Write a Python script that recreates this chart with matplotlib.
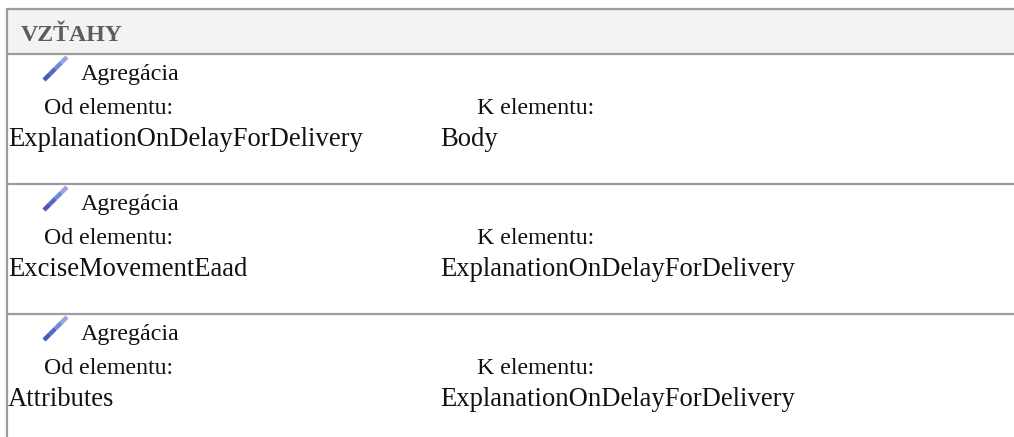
"""Relationship table from a model report, redrawn in pixel coordinates."""
import matplotlib
matplotlib.use("Agg")
import matplotlib.pyplot as plt

W, H = 1014, 437
HEADER = "VZŤAHY"
KIND = "Agregácia"
FROM_LABEL = "Od elementu:"
TO_LABEL = "K elementu:"
FROM_NAMES = ["ExplanationOnDelayForDelivery", "ExciseMovementEaad", "Attributes"]
TO_NAMES = ["Body", "ExplanationOnDelayForDelivery", "ExplanationOnDelayForDelivery"]
ROW_TOPS = [54, 184, 314]

GREY = "#9c9c9c"
INK = "#111111"

plt.rcParams["font.family"] = ["Liberation Serif", "DejaVu Serif"]

fig = plt.figure(figsize=(W / 100, H / 100), dpi=100)
ax = fig.add_axes([0, 0, 1, 1])
ax.set_xlim(0, W)
ax.set_ylim(H, 0)
ax.axis("off")

# header band and borders
ax.fill_between([7, W], 9, 54, color="#f3f3f3", lw=0, zorder=0)
ax.plot([6, W], [9, 9], color=GREY, lw=1.6, solid_capstyle="butt")
ax.plot([7, 7], [8, H], color=GREY, lw=1.6, solid_capstyle="butt")
ax.text(21, 41, HEADER, fontsize=17.2, fontweight="bold", color="#5c5c5c", va="baseline")


def pencil(y_top):
    # small blue pencil, darker at the base, fading towards the far end
    steps = [("#4a57b8", 0.0), ("#5468c4", 0.25), ("#6f8ad8", 0.5), ("#98a6dc", 0.75), ("#c9cfe8", 1.0)]
    for i in range(len(steps) - 1):
        c, t0 = steps[i]
        t1 = steps[i + 1][1]
        x0, x1 = 44 + 23 * t0, 44 + 23 * t1
        y0, y1 = y_top + 25 - 23 * t0, y_top + 25 - 23 * t1
        ax.plot([x0, x1], [y0, y1], color=c, lw=3.2, solid_capstyle="butt")


for i, top in enumerate(ROW_TOPS):
    ax.plot([6, W], [top, top], color=GREY, lw=1.6, solid_capstyle="butt")
    pencil(top + 1)
    ax.text(81, top + 26, KIND, fontsize=17.3, color=INK, va="baseline")
    ax.text(44, top + 60, FROM_LABEL, fontsize=17.2, color=INK, va="baseline")
    ax.text(477, top + 60, TO_LABEL, fontsize=17.2, color=INK, va="baseline")
    ax.text(8, top + 92, FROM_NAMES[i], fontsize=19.2, color=INK, va="baseline")
    ax.text(440, top + 92, TO_NAMES[i], fontsize=19.2, color=INK, va="baseline")

fig.savefig("out.png", dpi=100)
